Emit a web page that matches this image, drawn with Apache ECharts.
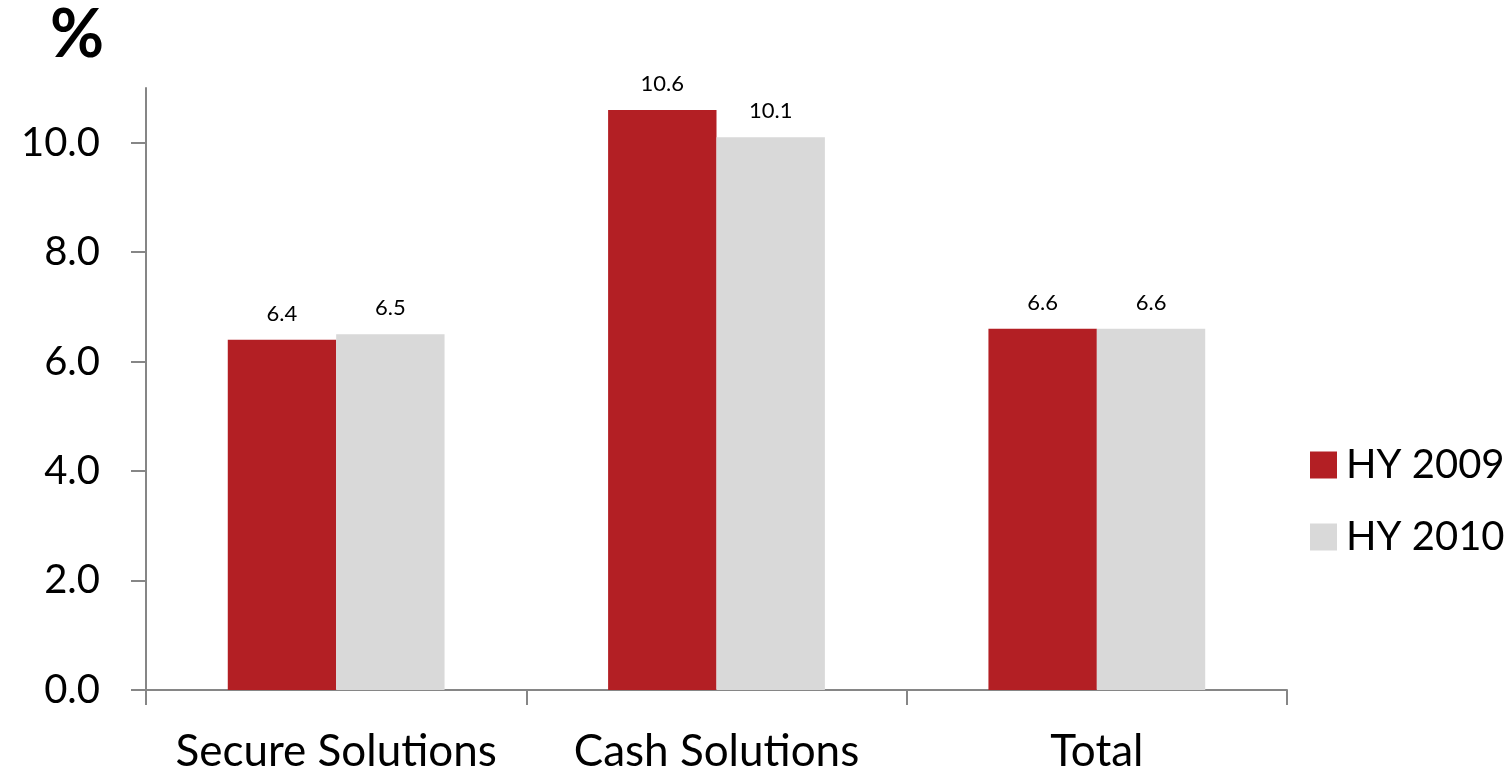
<!DOCTYPE html>
<html>
<head>
<meta charset="utf-8">
<script src="https://cdn.jsdelivr.net/npm/echarts@6/dist/echarts.min.js"></script>
<style>
  html, body { margin: 0; padding: 0; background: #fff; }
  #chart { width: 1510px; height: 774px; }
</style>
</head>
<body>
<div id="chart"></div>
<script>
var categories = ['Secure Solutions', 'Cash Solutions', 'Total'];
var hy2009 = [6.4, 10.6, 6.6];
var hy2010 = [6.5, 10.1, 6.6];
var yTicks = [0, 2, 4, 6, 8, 10];

var dom = document.getElementById('chart');
var myChart = echarts.init(dom);
window.onresize = function () {
  myChart.resize();
};

var font = 'Lato, "Open Sans", sans-serif';
var axisColor = '#868686';

var option = {
  animation: false,
  textStyle: { fontFamily: font, color: '#000' },
  title: {
    text: '%',
    left: 45,
    top: -2,
    textStyle: { fontFamily: font, fontSize: 66, fontWeight: 'bold', color: '#000' }
  },
  legend: {
    orient: 'vertical',
    left: 1305,
    top: 440,
    itemWidth: 27,
    itemHeight: 27,
    itemGap: 32,
    icon: 'rect',
    data: ['HY 2009', 'HY 2010'],
    textStyle: { fontFamily: font, fontSize: 40, color: '#000', padding: [0, 0, 0, 4] }
  },
  grid: {
    left: 146,
    right: 223,
    top: 88,
    bottom: 82,
    containLabel: false
  },
  xAxis: {
    type: 'category',
    data: categories,
    axisLine: { show: true, lineStyle: { color: axisColor, width: 2 } },
    axisTick: { show: true, interval: 0, inside: false, alignWithLabel: false, length: 15, lineStyle: { color: axisColor, width: 2 } },
    axisLabel: { interval: 0, hideOverlap: false, fontFamily: font, fontSize: 44, color: '#000', margin: 40 }
  },
  yAxis: {
    type: 'value',
    min: 0,
    max: 11,
    interval: 2,
    splitLine: { show: false },
    axisLine: { show: true, lineStyle: { color: axisColor, width: 2 } },
    axisTick: { show: true, inside: false, length: 15, customValues: yTicks, lineStyle: { color: axisColor, width: 2 } },
    axisLabel: {
      fontFamily: font,
      fontSize: 40,
      color: '#000',
      margin: 46,
      customValues: yTicks,
      formatter: function (v) { return v.toFixed(1); }
    }
  },
  series: [
    {
      name: 'HY 2009',
      type: 'bar',
      data: hy2009,
      barGap: '0%',
      barCategoryGap: '43%',
      itemStyle: { color: '#B31F24' },
      label: {
        show: true,
        position: 'top',
        distance: 15,
        fontFamily: font,
        fontSize: 22,
        color: '#000',
        formatter: function (p) { return p.value.toFixed(1); }
      }
    },
    {
      name: 'HY 2010',
      type: 'bar',
      data: hy2010,
      itemStyle: { color: '#D9D9D9' },
      label: {
        show: true,
        position: 'top',
        distance: 15,
        fontFamily: font,
        fontSize: 22,
        color: '#000',
        formatter: function (p) { return p.value.toFixed(1); }
      }
    }
  ]
};

if (option && typeof option === 'object') {
  myChart.setOption(option, true);
}
</script>
</body>
</html>
